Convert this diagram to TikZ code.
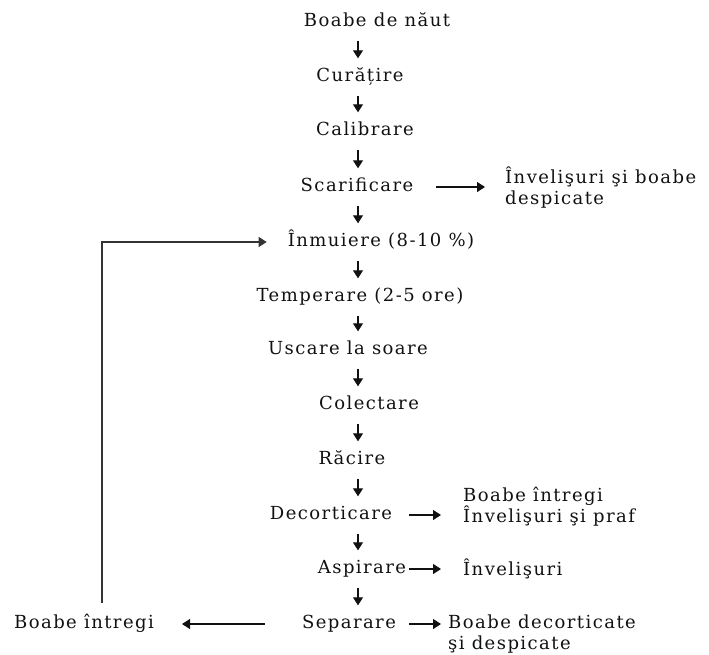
\documentclass[tikz,border=0pt]{standalone}
\usepackage{fontspec}
\setmainfont[LetterSpace=8]{DejaVu Serif}
\usepackage{xcolor}
\usepackage{tikz}
\usetikzlibrary{positioning,arrows.meta}
\definecolor{flowink}{HTML}{111111}
\definecolor{loopgrey}{HTML}{333333}

\begin{document}
\begin{tikzpicture}[
    x=1pt, y=-1pt,
    stage/.style={font=\fontsize{18}{21}\selectfont, text=flowink,
        inner sep=3pt, text height=13pt, text depth=4pt},
    side/.style={font=\fontsize{18}{21}\selectfont, text=flowink,
        inner sep=3pt, align=left, anchor=west},
    flow/.style={draw=flowink, line width=1.1pt,
        -{Triangle[length=8pt,width=10pt]}},
    loop/.style={draw=loopgrey, line width=1.1pt,
        -{Triangle[length=8pt,width=10pt]}}
]
\useasboundingbox (0,0) rectangle (709,654);
\coordinate (axis) at (358,0);
\coordinate (loopstart) at (102,603);

% main chain
\node[stage] (boabe) at (377,22) {Boabe de năut};
\node[stage] (curatire) at (360,77) {Curățire};
\node[stage] (calibrare) at (365,131) {Calibrare};
\node[stage] (scarificare) at (357,187) {Scarificare};
\node[stage] (inmuiere) at (381,242) {Înmuiere (8-10 \%)};
\node[stage] (temperare) at (360,297) {Temperare (2-5 ore)};
\node[stage] (uscare) at (348,350) {Uscare la soare};
\node[stage] (colectare) at (369,405) {Colectare};
\node[stage] (racire) at (352,460) {Răcire};
\node[stage] (decorticare) at (331,515) {Decorticare};
\node[stage] (aspirare) at (362,569) {Aspirare};
\node[stage] (separare) at (349,624) {Separare};

% side outputs
\node[side] (invelboabe) at (502,188) {Învelişuri şi boabe\\despicate};
\node[side] (intregipraf) at (460,507) {Boabe întregi\\Învelişuri şi praf};
\node[side] (invelisuri) at (460,569) {Învelişuri};
\node[side] (decortic) at (445,634) {Boabe decorticate\\şi despicate};
\node[stage] (intregi) at (84,624) {Boabe întregi};

% down arrows
\foreach \a/\b in {boabe/curatire, curatire/calibrare, calibrare/scarificare,
    scarificare/inmuiere, inmuiere/temperare, temperare/uscare,
    uscare/colectare, colectare/racire, racire/decorticare,
    decorticare/aspirare, aspirare/separare}
  \draw[flow, shorten <=7pt, shorten >=7pt] (\a.south -| axis) -- (\b.north -| axis);

% side arrows
\draw[flow, shorten <=20pt, shorten >=17pt] (scarificare.east) -- (scarificare -| invelboabe.west);
\draw[flow, shorten <=14pt, shorten >=19pt] (decorticare.east) -- (decorticare -| intregipraf.west);
\draw[flow, shorten >=19pt] (aspirare.east) -- (aspirare -| invelisuri.west);
\draw[flow, shorten <=10pt, shorten >=4pt] (separare.east) -- (separare -| decortic.west);
\draw[flow, shorten <=34pt, shorten >=25pt] (separare.west) -- (intregi.east);

% recycle loop
\draw[loop, shorten >=18pt] (loopstart) |- (inmuiere.west);
\end{tikzpicture}
\end{document}
